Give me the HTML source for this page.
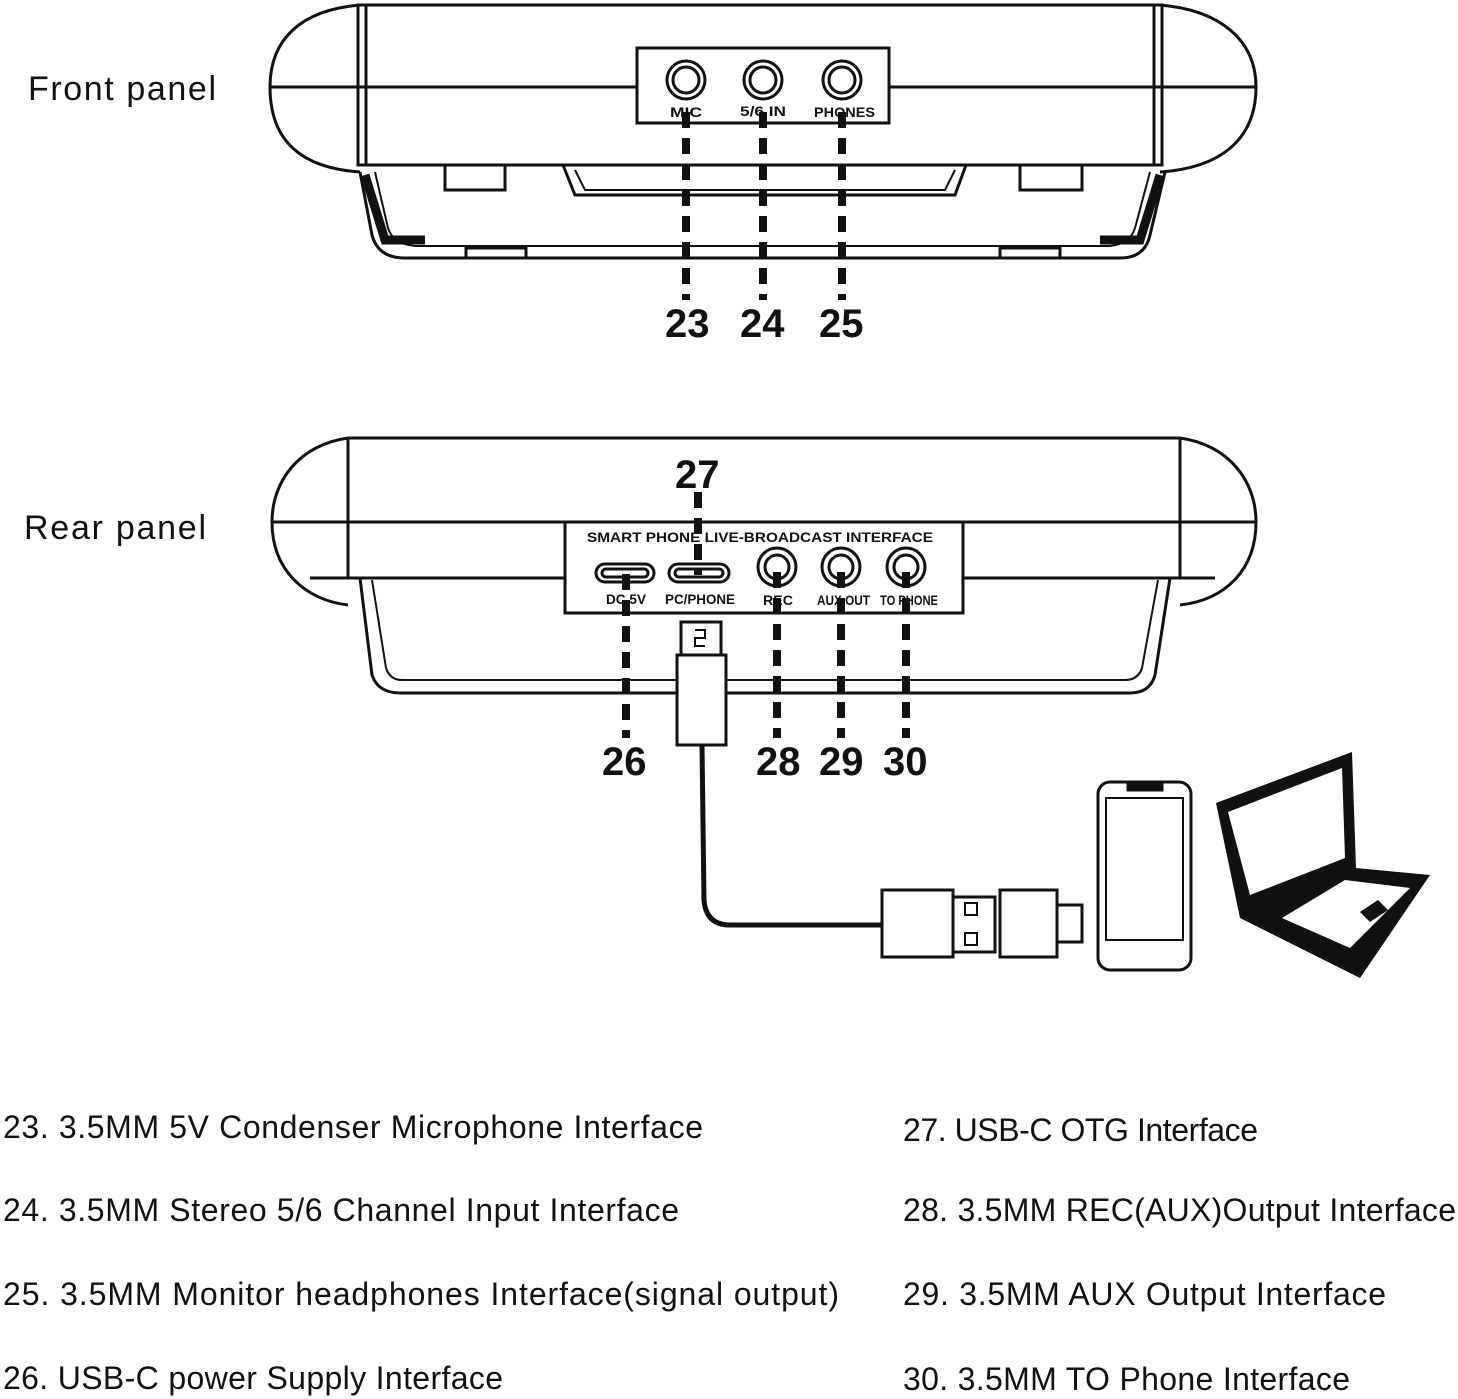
<!DOCTYPE html>
<html><head><meta charset="utf-8"><style>
html,body{margin:0;padding:0;background:#fff;}
svg{display:block;}
text{font-family:"Liberation Sans",sans-serif;fill:#111;}
</style></head><body>
<svg width="1458" height="1399" viewBox="0 0 1458 1399" xmlns="http://www.w3.org/2000/svg">
<g fill="none" stroke="#111" stroke-width="3">
<!-- FRONT PANEL -->
<path d="M360 5 C300 10 270 40 270 87 C270 140 300 168 360 172"/>
<path d="M1160 5 C1220 10 1256 40 1256 87 C1256 140 1220 168 1160 172"/>
<rect x="358" y="5" width="804" height="160"/>
<line x1="366" y1="5" x2="366" y2="165"/>
<line x1="1154" y1="5" x2="1154" y2="165"/>
<line x1="270" y1="87" x2="637" y2="87"/>
<line x1="889" y1="87" x2="1256" y2="87"/>
<path d="M360 172 L372 235 Q378 258 405 258 L1120 258 Q1145 258 1150 235 L1165 172"/>
<path d="M375 172 L388 228 Q393 244 415 246 L1110 246 Q1130 244 1135 228 L1150 172" stroke-width="2"/>
<path d="M365 175 L385 240 L425 240" stroke-width="9"/>
<path d="M1160 175 L1140 240 L1100 240" stroke-width="9"/>
<rect x="445" y="165" width="60" height="25"/>
<rect x="1020" y="165" width="62" height="25"/>
<path d="M563 165 L575 195 L955 195 L966 165"/>
<path d="M575 170 L585 190 L945 190 L955 170" stroke-width="2"/>
<rect x="466" y="248" width="60" height="10"/>
<rect x="1000" y="248" width="60" height="10"/>
<rect x="637" y="48" width="252" height="75" fill="#fff"/>
<circle cx="686" cy="80" r="19"/><circle cx="686" cy="80" r="13"/>
<circle cx="763" cy="80" r="19"/><circle cx="763" cy="80" r="13"/>
<circle cx="842" cy="80" r="19"/><circle cx="842" cy="80" r="13"/>
<!-- REAR PANEL -->
<path d="M348 438 C300 445 272 480 272 522 C272 570 305 600 348 605"/>
<path d="M1180 438 C1228 445 1256 480 1256 522 C1256 570 1225 600 1180 605"/>
<line x1="348" y1="438" x2="1180" y2="438"/>
<line x1="348" y1="438" x2="348" y2="578"/>
<line x1="1180" y1="438" x2="1180" y2="578"/>
<line x1="272" y1="522" x2="1256" y2="522"/>
<line x1="310" y1="578" x2="1215" y2="578"/>
<path d="M360 578 L372 675 Q378 693 400 693 L1130 693 Q1150 693 1155 675 L1170 578"/>
<path d="M372 580 L386 668 Q390 680 402 680 L1125 680 Q1138 680 1142 668 L1158 580" stroke-width="2"/>
<rect x="565" y="522" width="398" height="91" fill="#fff"/>
<rect x="596" y="564" width="58" height="18" rx="9"/><rect x="602" y="569" width="46" height="8" rx="4"/>
<rect x="669" y="564" width="60" height="18" rx="9"/><rect x="675" y="569" width="48" height="8" rx="4"/>
<circle cx="777" cy="567" r="19"/><circle cx="777" cy="567" r="12"/>
<circle cx="841" cy="567" r="19"/><circle cx="841" cy="567" r="12"/>
<circle cx="906" cy="567" r="19"/><circle cx="906" cy="567" r="12"/>
<!-- cable -->
<rect x="681" y="622" width="40" height="33" fill="#fff"/>
<path d="M695 630 h10 v8 h-10 v8 h10" stroke-width="2"/>
<rect x="677" y="655" width="49" height="90" fill="#fff"/>
<path d="M702 745 L704 900 Q706 925 730 925 L882 925" stroke-width="5"/>
<rect x="882" y="890" width="71" height="67"/>
<rect x="953" y="897" width="42" height="55"/>
<rect x="965" y="903" width="12" height="12" stroke-width="2"/><rect x="965" y="933" width="12" height="12" stroke-width="2"/>
<rect x="1000" y="890" width="57" height="67"/>
<rect x="1057" y="905" width="25" height="37"/>
<rect x="1098" y="782" width="93" height="188" rx="12"/>
<rect x="1106" y="798" width="77" height="142" stroke-width="2"/>
<rect x="1128" y="784" width="34" height="6" fill="#111"/>
</g>
<!-- laptop -->
<path d="M1216 803 L1352 752 L1356 868 L1430 875 L1360 978 L1240 918 Z" fill="#111"/>
<path d="M1228 812 L1342 768 L1345 858 L1250 895 Z" fill="#fff"/>
<path d="M1282 918 L1345 880 L1410 888 L1350 948 Z" fill="#fff"/>
<path d="M1360 912 L1378 900 L1388 910 L1370 922 Z" fill="#111"/>
<!-- dashed leaders -->
<g stroke="#111" stroke-width="8" stroke-dasharray="16 10" fill="none">
<line x1="686" y1="112" x2="686" y2="300"/>
<line x1="763" y1="112" x2="763" y2="300"/>
<line x1="842" y1="112" x2="842" y2="300"/>
<line x1="698" y1="492" x2="698" y2="575"/>
<line x1="626" y1="574" x2="626" y2="738"/>
<line x1="777" y1="572" x2="777" y2="738"/>
<line x1="841" y1="572" x2="841" y2="738"/>
<line x1="906" y1="572" x2="906" y2="738"/>
</g>
<!-- labels -->
<text x="28" y="100" font-size="34" textLength="188">Front panel</text>
<text x="24" y="539" font-size="34" textLength="182">Rear panel</text>
<g font-size="14" font-weight="bold">
<text x="670" y="117" textLength="32" lengthAdjust="spacingAndGlyphs">MIC</text>
<text x="740" y="116" textLength="46" lengthAdjust="spacingAndGlyphs">5/6 IN</text>
<text x="814" y="117" textLength="61" lengthAdjust="spacingAndGlyphs">PHONES</text>
<text x="587" y="542" textLength="346" lengthAdjust="spacingAndGlyphs">SMART PHONE LIVE-BROADCAST INTERFACE</text>
<text x="606" y="604" textLength="40" lengthAdjust="spacingAndGlyphs">DC 5V</text>
<text x="665" y="604" textLength="70" lengthAdjust="spacingAndGlyphs">PC/PHONE</text>
<text x="763" y="605" textLength="30" lengthAdjust="spacingAndGlyphs">REC</text>
<text x="817" y="605" textLength="53" lengthAdjust="spacingAndGlyphs">AUX OUT</text>
<text x="880" y="605" textLength="58" lengthAdjust="spacingAndGlyphs">TO PHONE</text>
</g>
<g font-size="40" font-weight="bold">
<text x="665" y="337">23</text><text x="740" y="337">24</text><text x="819" y="337">25</text>
<text x="675" y="488">27</text>
<text x="602" y="775">26</text><text x="756" y="775">28</text><text x="819" y="775">29</text><text x="883" y="775">30</text>
</g>
<g font-size="32">
<text x="3" y="1138" textLength="700">23. 3.5MM 5V Condenser Microphone Interface</text>
<text x="3" y="1221" textLength="676">24. 3.5MM Stereo 5/6 Channel Input Interface</text>
<text x="3" y="1305" textLength="836">25. 3.5MM Monitor headphones Interface(signal output)</text>
<text x="3" y="1389" textLength="500">26. USB-C power Supply Interface</text>
<text x="903" y="1141" textLength="355">27. USB-C OTG Interface</text>
<text x="903" y="1221" textLength="553">28. 3.5MM REC(AUX)Output Interface</text>
<text x="903" y="1305" textLength="483">29. 3.5MM AUX Output Interface</text>
<text x="903" y="1390" textLength="447">30. 3.5MM TO Phone Interface</text>
</g>
</svg>
</body></html>
